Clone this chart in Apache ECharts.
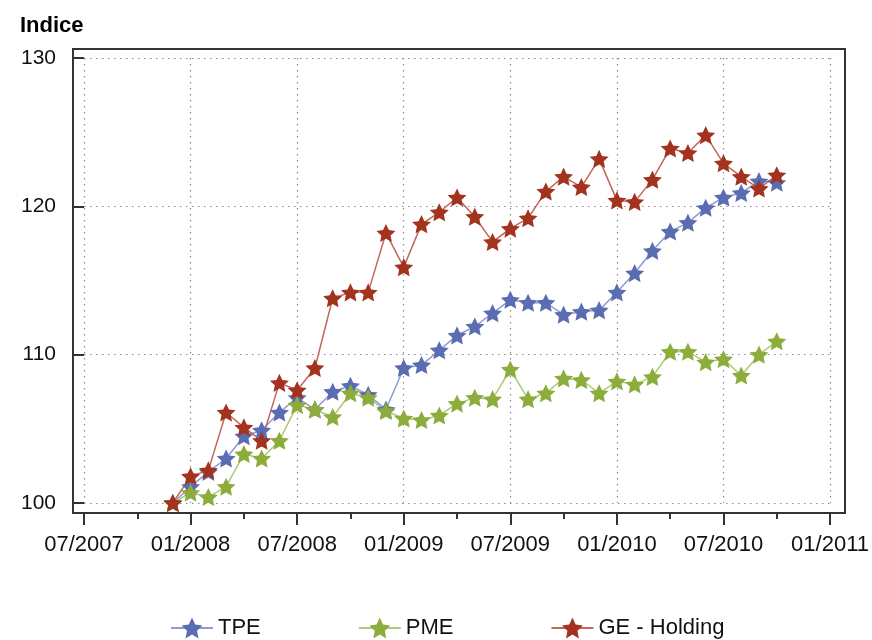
<!DOCTYPE html>
<html>
<head>
<meta charset="utf-8">
<title>Indice</title>
<script src="https://cdn.jsdelivr.net/npm/echarts@6/dist/echarts.min.js"></script>
<style>
  html, body { margin: 0; padding: 0; background: #fff; }
  #chart { width: 872px; height: 640px; }
</style>
</head>
<body>
<div id="chart"></div>
<script>
// monthly observations, 12/2007 .. 10/2010
const months = [
  '2007-12', '2008-01', '2008-02', '2008-03', '2008-04', '2008-05', '2008-06',
  '2008-07', '2008-08', '2008-09', '2008-10', '2008-11', '2008-12',
  '2009-01', '2009-02', '2009-03', '2009-04', '2009-05', '2009-06',
  '2009-07', '2009-08', '2009-09', '2009-10', '2009-11', '2009-12',
  '2010-01', '2010-02', '2010-03', '2010-04', '2010-05', '2010-06',
  '2010-07', '2010-08', '2010-09', '2010-10'
];
const tpe = [
  100, 101.1, 102.1, 103.0, 104.5, 104.9, 106.1, 107.1, 106.3, 107.5, 107.9, 107.3, 106.3,
  109.1, 109.3, 110.3, 111.3, 111.9, 112.8, 113.7, 113.5, 113.5, 112.7, 112.9, 113.0,
  114.2, 115.5, 117.0, 118.3, 118.9, 119.9, 120.6, 120.9, 121.7, 121.6
];
const pme = [
  100, 100.7, 100.4, 101.1, 103.3, 103.0, 104.2, 106.6, 106.3, 105.8, 107.4, 107.1, 106.2,
  105.7, 105.6, 105.9, 106.7, 107.1, 107.0, 109.0, 107.0, 107.4, 108.4, 108.3, 107.4,
  108.2, 108.0, 108.5, 110.2, 110.2, 109.5, 109.7, 108.6, 110.0, 110.9
];
const geHolding = [
  100, 101.8, 102.2, 106.1, 105.1, 104.2, 108.1, 107.6, 109.1, 113.8, 114.2, 114.2, 118.2,
  115.9, 118.8, 119.6, 120.6, 119.3, 117.6, 118.5, 119.2, 121.0, 122.0, 121.3, 123.2,
  120.4, 120.3, 121.8, 123.9, 123.6, 124.8, 122.9, 122.0, 121.2, 122.1
];
const tickLabels = ['07/2007', '01/2008', '07/2008', '01/2009', '07/2009', '01/2010', '07/2010', '01/2011'];
const yTicks = [100, 110, 120, 130];

// x position = months since 07/2007
const monthIndex = (s) => {
  const [y, m] = s.split('-').map(Number);
  return (y - 2007) * 12 + (m - 7);
};
const pairs = (vals) => months.map((m, i) => [monthIndex(m), vals[i]]);

const star = 'path://M0,-10L2.9,-3.9L9.5,-3.1L4.6,1.4L5.9,8.1L0,4.8L-5.9,8.1L-4.6,1.4L-9.5,-3.1L-2.9,-3.9Z';
const font = 'Liberation Sans, Arial, sans-serif';
const dotted = { color: '#8c8c8c', type: [1.5, 4.5], width: 1.2 };

const mkSeries = (name, vals, fill, line) => ({
  name: name,
  type: 'line',
  xAxisIndex: 0,
  yAxisIndex: 0,
  data: pairs(vals),
  symbol: star,
  symbolSize: 19,
  symbolKeepAspect: true,
  itemStyle: { color: fill },
  lineStyle: { color: line, width: 1.5 },
  emphasis: { disabled: true }
});

const chart = echarts.init(document.getElementById('chart'), null, { renderer: 'canvas' });
chart.setOption({
  animation: false,
  backgroundColor: '#fff',
  textStyle: { fontFamily: font },
  title: {
    text: 'Indice',
    left: 15,
    top: 10,
    textStyle: { fontSize: 22, fontWeight: 'bold', color: '#000', fontFamily: font }
  },
  // grid 0 is only the frame, grid 1 holds the data
  grid: [
    { left: 73, right: 27, top: 49, bottom: 127, show: true, borderColor: '#333', borderWidth: 2, backgroundColor: 'transparent' },
    { left: 84, right: 40, top: 58, bottom: 137 }
  ],
  xAxis: [{
    type: 'value',
    gridIndex: 1,
    min: 0,
    max: 42,
    interval: 6,
    offset: 10,
    axisLine: { show: false },
    axisTick: { show: true, length: 12, lineStyle: { color: '#333', width: 2 } },
    minorTick: { show: true, splitNumber: 2, length: 6, lineStyle: { color: '#333', width: 2 } },
    axisLabel: {
      margin: 21,
      fontSize: 22,
      color: '#111',
      formatter: (v) => tickLabels[Math.round(v / 6)] || ''
    },
    splitLine: { show: true, lineStyle: dotted }
  }, {
    type: 'value', gridIndex: 0, show: false, min: 0, max: 1
  }],
  yAxis: [{
    type: 'value',
    gridIndex: 1,
    min: yTicks[0],
    max: yTicks[yTicks.length - 1],
    interval: 10,
    offset: 11,
    axisLine: { show: false },
    axisTick: { show: true, length: 10, lineStyle: { color: '#333', width: 2 } },
    axisLabel: { margin: 17, fontSize: 21, color: '#111' },
    splitLine: { show: true, lineStyle: dotted }
  }, {
    type: 'value', gridIndex: 0, show: false, min: 0, max: 1
  }],
  legend: {
    left: 165,
    top: 612,
    itemGap: 97,
    itemWidth: 42,
    itemHeight: 26,
    textStyle: { fontSize: 22, color: '#111', fontFamily: font },
    data: ['TPE', 'PME', 'GE - Holding']
  },
  series: [
    mkSeries('TPE', tpe, '#5a6db2', '#8e9bd0'),
    mkSeries('PME', pme, '#8cac3c', '#b0c978'),
    mkSeries('GE - Holding', geHolding, '#a3321f', '#c2675a')
  ]
});
</script>
</body>
</html>
